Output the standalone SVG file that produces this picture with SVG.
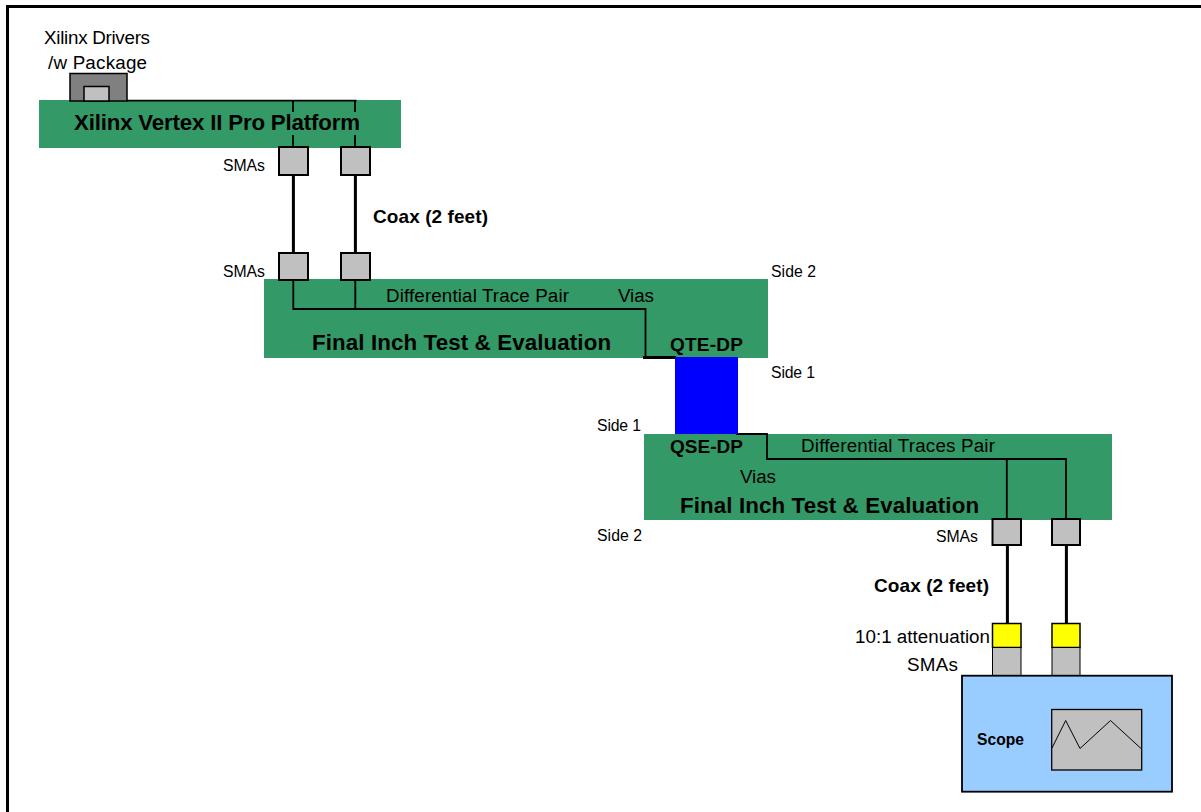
<svg xmlns="http://www.w3.org/2000/svg" width="1201" height="812" viewBox="0 0 1201 812">
<style>
text{font-family:"Liberation Sans",Arial,sans-serif;fill:#000}
.s{font-size:15.8px}
.m{font-size:18.8px}
.h{font-size:22.3px;font-weight:bold}
.c{font-size:19px;font-weight:bold}
.green{fill:#339966}
.sma{fill:#c0c0c0;stroke:#000;stroke-width:2}
.thin{fill:none;stroke:#000;stroke-width:1.800}
.coax{fill:none;stroke:#000;stroke-width:3}
</style>
<rect width="1201" height="812" fill="#fff"/>
<path id="frame" d="M7.500 812V6.500H1201" fill="none" stroke="#000" stroke-width="3"/>
<g id="pcb-xilinx"><rect class="green" x="39" y="100" width="362" height="48"/></g>
<g id="pcb-top"><rect class="green" x="264" y="279" width="504" height="79"/></g>
<g id="pcb-bottom"><rect class="green" x="644" y="434" width="468" height="86"/></g>
<g id="connectors">
<path class="thin" d="M127 100.700H356.500M293 100V147M355 100V147"/>
<path class="coax" d="M293.400 175V253M355.400 175V253M1007.400 545V623M1066.400 545V623"/>
<path class="thin" d="M293.300 280V309H645.500V357M355.300 280V309"/>
<path class="coax" d="M643 357.500H676"/>
<path class="thin" d="M736 434H767V459H1066V519M1006.800 459V519"/>
</g>
<g id="package"><rect x="70" y="73.500" width="57" height="27.500" fill="#808080" stroke="#000" stroke-width="1.500"/><rect x="84" y="86.500" width="25" height="14.500" fill="#c0c0c0" stroke="#000" stroke-width="1.500"/><text class="m" x="44" y="44" textLength="106">Xilinx Drivers</text><text class="m" x="48" y="69" textLength="99">/w Package</text></g>
<g id="platform-label"><rect class="green" x="70" y="112" width="295" height="23"/><text class="h" x="74" y="130" textLength="286">Xilinx Vertex II Pro Platform</text></g>
<g id="sma-1"><rect class="sma" x="279" y="147" width="29" height="28"/><rect class="sma" x="341" y="147" width="29" height="28"/><text class="s" x="223" y="170.500" textLength="42">SMAs</text></g>
<g id="sma-2"><rect class="sma" x="279" y="253" width="29" height="27"/><rect class="sma" x="341" y="253" width="29" height="27"/><text class="s" x="223" y="276.500" textLength="42">SMAs</text></g>
<text class="c" x="373" y="222.500" textLength="115">Coax (2 feet)</text>
<text class="m" x="386" y="301.500" textLength="183">Differential Trace Pair</text>
<text class="m" x="618" y="301.500" textLength="36">Vias</text>
<text class="h" x="312" y="350" textLength="299">Final Inch Test &amp; Evaluation</text>
<text class="c" x="670" y="351" textLength="73">QTE-DP</text>
<text class="s" x="771" y="276.500" textLength="45">Side 2</text>
<text class="s" x="771" y="377.500" textLength="44">Side 1</text>
<g id="cable"><rect x="675" y="357" width="63" height="77" fill="#0000ff"/></g>
<text class="s" x="597" y="430.500" textLength="44">Side 1</text>
<text class="s" x="597" y="540.500" textLength="45">Side 2</text>
<text class="c" x="670" y="452.500" textLength="73">QSE-DP</text>
<text class="m" x="801" y="451.500" textLength="194">Differential Traces Pair</text>
<text class="m" x="740" y="482.500" textLength="36">Vias</text>
<text class="h" x="680" y="512.500" textLength="299">Final Inch Test &amp; Evaluation</text>
<g id="sma-3"><rect class="sma" x="992.500" y="519" width="28.500" height="26"/><rect class="sma" x="1052" y="519" width="28" height="26"/><text class="s" x="936" y="541.500" textLength="42">SMAs</text></g>
<text class="c" x="874" y="591.500" textLength="115">Coax (2 feet)</text>
<g id="attenuators"><rect x="992.500" y="623.500" width="28.500" height="24" fill="#ffff00" stroke="#000" stroke-width="1.500"/><rect x="1052" y="623.500" width="28" height="24" fill="#ffff00" stroke="#000" stroke-width="1.500"/><rect x="992.500" y="647.500" width="28.500" height="29" fill="#c0c0c0" stroke="#000" stroke-width="1"/><rect x="1052" y="647.500" width="28" height="29" fill="#c0c0c0" stroke="#000" stroke-width="1"/><text class="m" x="855" y="642.500" textLength="135">10:1 attenuation</text><text class="m" x="907" y="671" textLength="51">SMAs</text></g>
<g id="scope"><rect x="962" y="675.700" width="210" height="116" fill="#99ccff" stroke="#000" stroke-width="1.800"/><rect x="1051.700" y="709.500" width="90" height="60.500" fill="#c0c0c0" stroke="#000" stroke-width="1.300"/><polyline points="1052,748 1065.700,720.500 1080,748.500 1110.500,720.500 1141,748.500" fill="none" stroke="#000" stroke-width="1"/><text x="977" y="745" style="font-size:15.600px;font-weight:bold" textLength="47">Scope</text></g>
</svg>
